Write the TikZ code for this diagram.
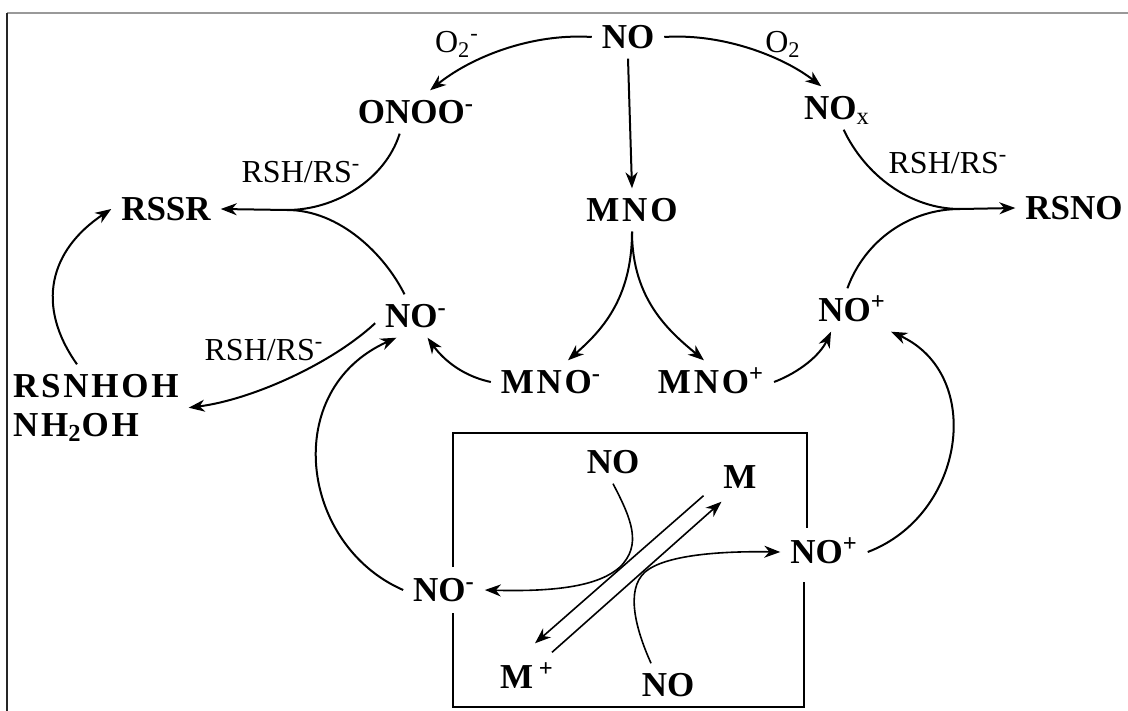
\documentclass[tikz,border=0pt]{standalone}
\usepackage{fontspec}
\setmainfont{Liberation Serif}
\usetikzlibrary{arrows.meta}
\newcommand{\wide}[1]{{\addfontfeatures{LetterSpace=8}#1}}
\tikzset{
	species/.style={font=\fontsize{17.5}{20}\selectfont\bfseries, inner sep=0pt, outer sep=5pt, text height=11.7pt, text depth=0pt},
	reagent/.style={font=\fontsize{16}{18}\selectfont, inner sep=0pt, text height=10.6pt, text depth=0pt},
	rxn/.style={line width=1pt, -{Stealth[length=8pt,width=6pt,inset=2.5pt]}},
	plain/.style={line width=1pt},
	inbox/.style={line width=0.8pt, -{Stealth[length=8pt,width=6pt,inset=2.5pt]}},
	frame/.style={line width=0.8pt}
}
\begin{document}
\begin{tikzpicture}[x=0.5pt,y=-0.5pt]
	\useasboundingbox (0,0) rectangle (1128,711);
	\draw[black!40, line width=0.9pt] (7,13) -- (1128,13);
	\draw[black!85, line width=0.9pt] (7,13) -- (7,711);

	\node[species] (noTop) at (628,37) {NO};
	\node[species] (onoo) at (416,112) {ONOO\textsuperscript{-}};
	\node[species] (nox) at (837,108) {NO\textsubscript{\mdseries x}};
	\node[species] (rssr) at (166,209) {RSSR};
	\node[species] (mno) at (632,210) {\wide{MNO}};
	\node[species] (rsno) at (1074,208) {RSNO};
	\node[species] (noM) at (416,316) {NO\textsuperscript{-}};
	\node[species] (nopM) at (852,310) {NO\textsuperscript{+}};
	\node[species] (mnoM) at (551,382) {\wide{MNO}\textsuperscript{-}};
	\node[species] (mnoP) at (711,382) {\wide{MNO}\textsuperscript{+}};
	\node[species, anchor=west] (rsnhoh) at (3,386) {\wide{RSNHOH}};
	\node[species, anchor=west] (nhoh) at (3,425) {\wide{NH\textsubscript{2}OH}};
	\node[species] (nt) at (613,462) {NO};
	\node[species] (boxM) at (740,477) {M};
	\node[species] (noR) at (824,552) {NO\textsuperscript{+}};
	\node[species] (noL) at (444,590) {NO\textsuperscript{-}};
	\node[species] (mp) at (527,677) {M\,\textsuperscript{+}};
	\node[species] (nb) at (668,685) {NO};

	\node[reagent] (o2m) at (457,42) {O\textsubscript{2}\textsuperscript{-}};
	\node[reagent] (o2) at (783,42) {O\textsubscript{2}};
	\node[reagent] (rshA) at (301,172) {RSH/RS\textsuperscript{-}};
	\node[reagent] (rshB) at (948,163) {RSH/RS\textsuperscript{-}};
	\node[reagent] (rshC) at (264,350) {RSH/RS\textsuperscript{-}};

	\coordinate (mergeL) at (287,210);
	\coordinate (mergeR) at (960,209);

	\draw[rxn] (noTop.west) .. controls (530,33) and (470,58) .. (onoo.57);
	\draw[rxn] (noTop.east) .. controls (725,33) and (785,58) .. (nox.126);
	\draw[rxn] (noTop.south) -- (mno.north);
	\draw[rxn] (onoo.233) .. controls (385,180) and (335,210) .. (mergeL) -- (rssr.east);
	\draw[plain] (noM.118) .. controls (385,255) and (340,210) .. (mergeL);
	\draw[rxn] (nox.-73) .. controls (865,175) and (910,209) .. (mergeR) -- (rsno.west);
	\draw[plain] (nopM.102) .. controls (865,240) and (910,209) .. (mergeR);
	\draw[rxn] (rsnhoh.131) .. controls (35,305) and (50,250) .. (rssr.west);
	\draw[rxn] (noM.190) .. controls (330,365) and (250,400) .. (rsnhoh.south east);
	\draw[rxn] (noL.west) .. controls (300,545) and (280,390) .. (noM.228);
	\draw[rxn] (mnoM.west) .. controls (458,375) and (440,355) .. (noM.298);
	\draw[rxn] (mno.south) .. controls (632,300) and (600,332) .. (mnoM.52);
	\draw[rxn] (mno.south) .. controls (632,300) and (670,332) .. (mnoP.108);
	\draw[rxn] (mnoP.east) .. controls (800,372) and (820,355) .. (nopM.226);
	\draw[rxn] (noR.east) .. controls (965,515) and (985,375) .. (nopM.-29);

	\draw[frame] (453,567) -- (453,433) -- (807,433) -- (807,528);
	\draw[frame] (453,613) -- (453,707) -- (804,707) -- (804,582);
	\draw[inbox] (nt.south) .. controls (632,520) and (642,545) .. (620,567) .. controls (600,585) and (560,592) .. (noL.east);
	\draw[inbox] (nb.128) .. controls (636,630) and (625,590) .. (645,572) .. controls (665,555) and (720,551) .. (noR.west);
	\draw[inbox] ([shift={(-10,-3)}]boxM.south west) -- ([shift={(8,-12)}]mp.north);
	\draw[inbox] ([shift={(25,-3)}]mp.north) -- ([shift={(8,3)}]boxM.south west);
\end{tikzpicture}
\end{document}
